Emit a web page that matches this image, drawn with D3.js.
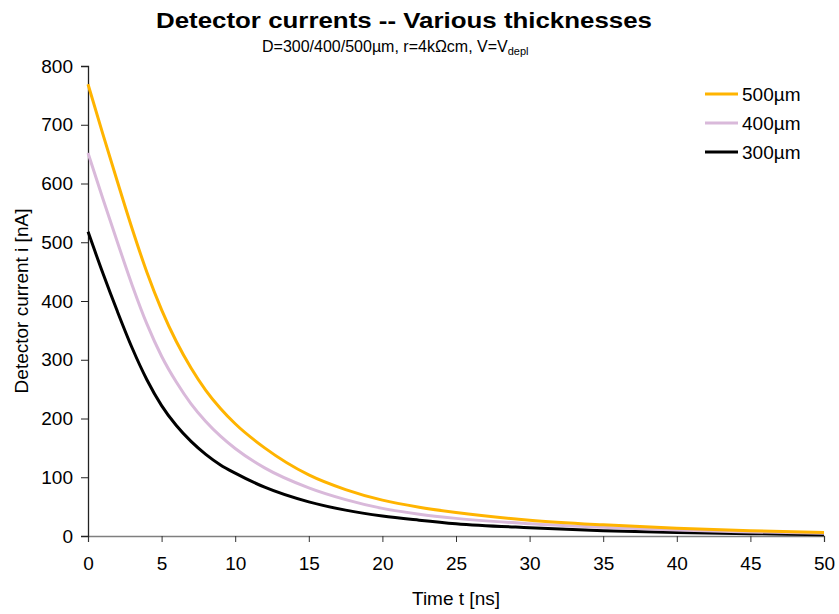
<!DOCTYPE html>
<html>
<head>
<meta charset="utf-8">
<script src="https://cdn.jsdelivr.net/npm/d3@7"></script>
<style>
  body { margin: 0; background: #fff; }
  svg text { font-family: "Liberation Sans", Arial, Helvetica, sans-serif; fill: #000; }
</style>
</head>
<body>
<svg width="839" height="614"></svg>
<script>
// time points [ns]
var times = [0, 1, 2, 3, 4, 5, 6, 7, 8, 9, 10, 12, 15, 17.5, 20, 22.5, 25, 30, 35, 40, 45, 50];
// detector current [nA]
var cur500 = [769, 685, 603, 523, 449, 385, 331, 286, 248, 217, 191, 150, 104, 79, 61, 49, 40, 27, 19, 13, 9, 6];
var cur400 = [652, 575, 500, 427, 361, 306, 262, 225, 195, 170, 149, 116, 82, 62, 47, 37, 30, 21, 15, 10, 7, 4.5];
var cur300 = [518, 448, 382, 320, 266, 222, 188, 161, 139, 121, 107, 83, 58, 44, 34, 27, 21, 14, 9, 6, 4, 2];
var xTicks = [0, 5, 10, 15, 20, 25, 30, 35, 40, 45, 50];
var yTicks = [0, 100, 200, 300, 400, 500, 600, 700, 800];
var seriesNames = ["500µm", "400µm", "300µm"];
var seriesColors = ["#FFB400", "#D9B9DA", "#000000"];

(function() {
  var svg = d3.select("svg");
  var mLeft = 88, mRight = 824, mTop = 66, mBottom = 536;

  var x = d3.scaleLinear().domain([0, 50]).range([mLeft, mRight]);
  var y = d3.scaleLinear().domain([0, 800]).range([mBottom, mTop]);

  // titles
  svg.append("text")
    .attr("x", 404).attr("y", 28)
    .attr("text-anchor", "middle")
    .attr("textLength", 496).attr("lengthAdjust", "spacingAndGlyphs")
    .style("font-size", "22px").style("font-weight", "bold")
    .text("Detector currents -- Various thicknesses");

  var sub = svg.append("text")
    .attr("x", 262).attr("y", 52)
    .style("font-size", "16px");
  sub.append("tspan").text("D=300/400/500µm, r=4kΩcm, V=V");
  sub.append("tspan").attr("dy", 3).style("font-size", "11px").text("depl");

  // axes
  var xAxis = svg.append("g")
    .attr("transform", "translate(0," + mBottom + ")")
    .call(d3.axisBottom(x).tickValues(xTicks).tickSize(6).tickPadding(15));
  xAxis.select(".domain").attr("stroke", "#7f7f7f").attr("stroke-width", 1.3);
  xAxis.selectAll(".tick line").attr("stroke", "#333");
  xAxis.selectAll("text").style("font-size", "19px");

  var yAxis = svg.append("g")
    .attr("transform", "translate(" + mLeft + ",0)")
    .call(d3.axisLeft(y).tickValues(yTicks).tickSize(7).tickPadding(8));
  yAxis.select(".domain").attr("stroke", "#222").attr("stroke-width", 1.3);
  yAxis.selectAll(".tick line").attr("stroke", "#222");
  yAxis.selectAll("text").style("font-size", "19px");

  svg.append("text")
    .attr("transform", "translate(28," + ((mTop + mBottom) / 2) + ") rotate(-90)")
    .attr("text-anchor", "middle")
    .style("font-size", "19px")
    .text("Detector current i [nA]");

  svg.append("text")
    .attr("x", (mLeft + mRight) / 2).attr("y", 605)
    .attr("text-anchor", "middle")
    .style("font-size", "19px")
    .text("Time t [ns]");

  // lines
  var line = d3.line()
    .x(function(d) { return x(d[0]); })
    .y(function(d) { return y(d[1]); })
    .curve(d3.curveMonotoneX);

  var allSeries = [cur500, cur400, cur300];
  // 300 first, so 500 ends up on top at the tail
  [2, 1, 0].forEach(function(i) {
    svg.append("path")
      .datum(times.map(function(t, j) { return [t, allSeries[i][j]]; }))
      .attr("fill", "none")
      .attr("stroke", seriesColors[i])
      .attr("stroke-width", 3)
      .attr("d", line);
  });

  // legend
  var legend = svg.append("g");
  seriesNames.forEach(function(name, i) {
    var ly = 94 + i * 29;
    legend.append("line")
      .attr("x1", 705).attr("x2", 738)
      .attr("y1", ly).attr("y2", ly)
      .attr("stroke", seriesColors[i]).attr("stroke-width", 3);
    legend.append("text")
      .attr("x", 742).attr("y", ly + 7)
      .style("font-size", "19px")
      .text(name);
  });
})();
</script>
</body>
</html>
